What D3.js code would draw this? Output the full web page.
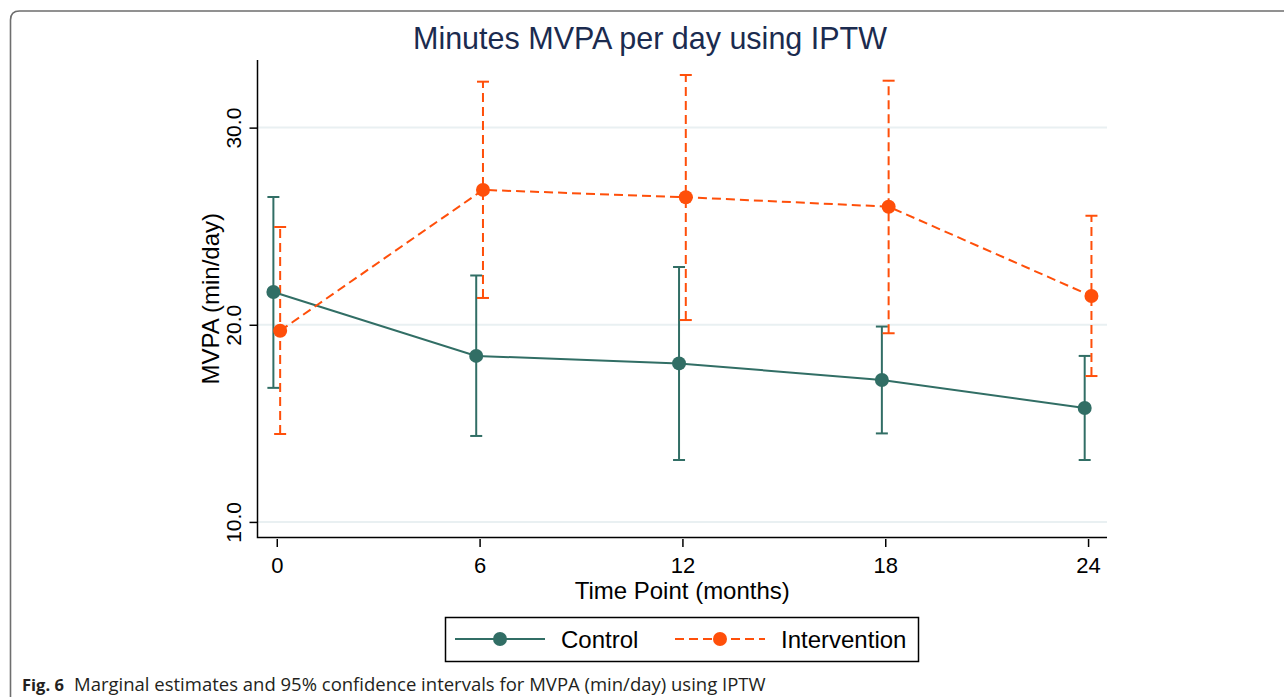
<!DOCTYPE html>
<html>
<head>
<meta charset="utf-8">
<script src="https://cdn.jsdelivr.net/npm/d3@7"></script>
<style>
  body { margin: 0; background: #fff; }
  svg { display: block; }
</style>
</head>
<body>
<script>
// chart values
const months = [0, 6, 12, 18, 24];
const controlMean = [21.66, 18.42, 18.04, 17.2, 15.78];
const controlLo = [16.8, 14.36, 13.14, 14.49, 13.14];
const controlHi = [26.48, 22.5, 22.93, 19.91, 18.42];
const interventionMean = [19.7, 26.84, 26.47, 25.99, 21.46];
const interventionLo = [14.46, 21.36, 20.24, 19.57, 17.4];
const interventionHi = [24.96, 32.33, 32.67, 32.38, 25.53];
const yTicks = [10, 20, 30];
const seriesNames = ['Control', 'Intervention'];

const W = 1284, H = 697;
const CONTROL_COLOR = '#316e65';
const INTERVENTION_COLOR = '#ff4f0a';
const DASH = '9 5';
const OFFSET = 0.1; // horizontal dodge between groups (months)

const svg = d3.select('body').append('svg')
  .attr('width', W).attr('height', H);

// panel frame (rounded top-left corner, open to the right/bottom)
svg.append('path')
  .attr('d', 'M10.5,697 V20 Q10.5,11 19.5,11 H1284')
  .attr('fill', 'none')
  .attr('stroke', '#6e6e6e')
  .attr('stroke-width', 1.6);

const x = d3.scaleLinear().domain([-0.57, 24.56]).range([257.5, 1107]);
const y = d3.scaleLinear().domain([9.21, 33.43]).range([537.5, 60]);

// gridlines
svg.append('g').selectAll('line')
  .data(yTicks)
  .join('line')
    .attr('x1', x.range()[0]).attr('x2', x.range()[1])
    .attr('y1', d => y(d)).attr('y2', d => y(d))
    .attr('stroke', '#e9f0f2')
    .attr('stroke-width', 2);

// y axis
const yAxis = svg.append('g')
  .attr('transform', `translate(${x.range()[0]},0)`)
  .call(d3.axisLeft(y).tickValues(yTicks).tickFormat(d3.format('.1f')).tickSize(8));
yAxis.select('.domain').remove();
yAxis.selectAll('.tick line').attr('stroke', '#000').attr('stroke-width', 1.5);
yAxis.selectAll('.tick text')
  .attr('transform', 'rotate(-90)')
  .attr('x', 0).attr('y', -17).attr('dy', 0)
  .attr('text-anchor', 'middle')
  .attr('fill', '#000')
  .style('font', '21px "Liberation Sans", Arial, sans-serif');

// x axis
const xAxis = svg.append('g')
  .attr('transform', `translate(0,${y.range()[0] + 1.5})`)
  .call(d3.axisBottom(x).tickValues(months).tickFormat(d3.format('d')).tickSize(8).tickPadding(10));
xAxis.select('.domain').remove();
xAxis.selectAll('.tick line').attr('stroke', '#000').attr('stroke-width', 1.5);
xAxis.selectAll('.tick text')
  .attr('fill', '#000')
  .style('font', '22px "Liberation Sans", Arial, sans-serif');

// axis lines
svg.append('path')
  .attr('d', `M${x.range()[0]},${y.range()[1]} V${y.range()[0]} H${x.range()[1]}`)
  .attr('fill', 'none')
  .attr('stroke', '#000')
  .attr('stroke-width', 1.5);

// titles
svg.append('text')
  .attr('x', 650).attr('y', 49)
  .attr('text-anchor', 'middle')
  .attr('fill', '#1b2b4f')
  .style('font', '30.5px "Liberation Sans", Arial, sans-serif')
  .text('Minutes MVPA per day using IPTW');

svg.append('text')
  .attr('x', (x.range()[0] + x.range()[1]) / 2).attr('y', 599)
  .attr('text-anchor', 'middle')
  .style('font', '24px "Liberation Sans", Arial, sans-serif')
  .text('Time Point (months)');

svg.append('text')
  .attr('transform', `translate(219,${(y.range()[0] + y.range()[1]) / 2}) rotate(-90)`)
  .attr('text-anchor', 'middle')
  .style('font', '24px "Liberation Sans", Arial, sans-serif')
  .text('MVPA (min/day)');

// series
const series = [
  { name: seriesNames[0], mean: controlMean, lo: controlLo, hi: controlHi,
    color: CONTROL_COLOR, dash: null, dx: -OFFSET },
  { name: seriesNames[1], mean: interventionMean, lo: interventionLo, hi: interventionHi,
    color: INTERVENTION_COLOR, dash: DASH, dx: OFFSET }
];

const plot = svg.append('g');

series.forEach(s => {
  const pts = months.map((m, i) => ({ m: m + s.dx, v: s.mean[i], lo: s.lo[i], hi: s.hi[i] }));
  const g = plot.append('g');

  // confidence intervals
  g.selectAll('line.ci')
    .data(pts)
    .join('line')
      .attr('class', 'ci')
      .attr('x1', d => x(d.m)).attr('x2', d => x(d.m))
      .attr('y1', d => y(d.lo)).attr('y2', d => y(d.hi))
      .attr('stroke', s.color)
      .attr('stroke-width', 2)
      .attr('stroke-dasharray', s.dash);
  ['lo', 'hi'].forEach(k => {
    g.selectAll('line.cap-' + k)
      .data(pts)
      .join('line')
        .attr('class', 'cap-' + k)
        .attr('x1', d => x(d.m) - 6).attr('x2', d => x(d.m) + 6)
        .attr('y1', d => y(d[k])).attr('y2', d => y(d[k]))
        .attr('stroke', s.color)
        .attr('stroke-width', 2);
  });
  s.pts = pts;
});

series.forEach(s => {
  const g = plot.append('g');
  g.append('path')
    .datum(s.pts)
    .attr('d', d3.line().x(d => x(d.m)).y(d => y(d.v)))
    .attr('fill', 'none')
    .attr('stroke', s.color)
    .attr('stroke-width', 2)
    .attr('stroke-dasharray', s.dash);
  g.selectAll('circle')
    .data(s.pts)
    .join('circle')
      .attr('cx', d => x(d.m)).attr('cy', d => y(d.v))
      .attr('r', 7)
      .attr('fill', s.color);
});

// legend
const legend = svg.append('g');
legend.append('rect')
  .attr('x', 445.5).attr('y', 617.5)
  .attr('width', 473).attr('height', 44)
  .attr('fill', '#fff')
  .attr('stroke', '#000')
  .attr('stroke-width', 1.5);
const legX = [455, 675];
series.forEach((s, i) => {
  const lx = legX[i];
  legend.append('line')
    .attr('x1', lx).attr('x2', lx + 90)
    .attr('y1', 639).attr('y2', 639)
    .attr('stroke', s.color)
    .attr('stroke-width', 2)
    .attr('stroke-dasharray', s.dash);
  legend.append('circle')
    .attr('cx', lx + 45).attr('cy', 639).attr('r', 7)
    .attr('fill', s.color);
  legend.append('text')
    .attr('x', lx + 106).attr('y', 648)
    .style('font', '24px "Liberation Sans", Arial, sans-serif')
    .text(s.name);
});

// caption
const cap = svg.append('text')
  .attr('x', 22).attr('y', 691)
  .attr('fill', '#231f20')
  .style('font', '18.5px "Open Sans", "Noto Sans", sans-serif');
cap.append('tspan').style('font-weight', 'bold').style('font-size', '16.5px').text('Fig. 6');
cap.append('tspan').attr('x', 74)
  .text('Marginal estimates and 95% confidence intervals for MVPA (min/day) using IPTW');
</script>
</body>
</html>
